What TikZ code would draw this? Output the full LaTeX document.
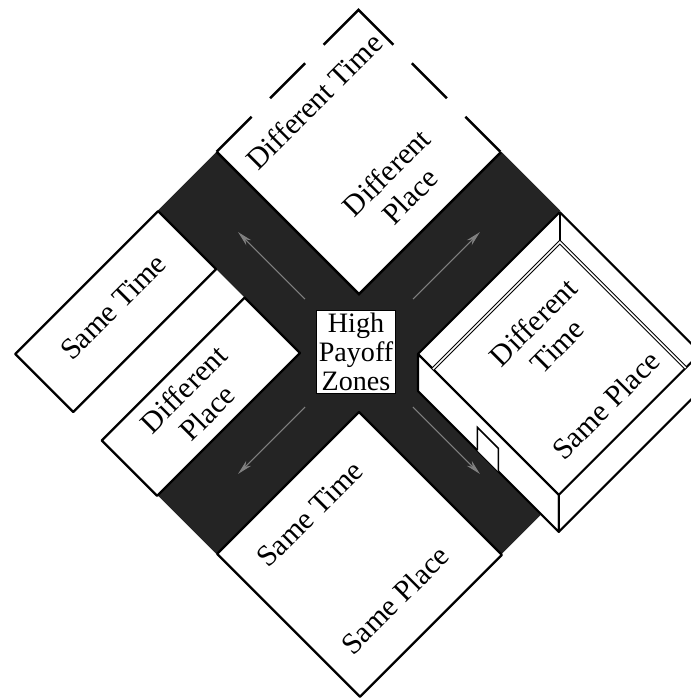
\documentclass[tikz,border=0pt]{standalone}
\usepackage{fontspec}
\setmainfont{Liberation Serif}
\usetikzlibrary{arrows.meta}

\begin{document}
\begin{tikzpicture}[x=0.02cm, y=-0.02cm, >={Stealth[length=3mm, width=1.4mm]},
	every node/.style={font=\fontsize{17}{19}\selectfont, align=center, inner sep=0pt},
	cell/.style={draw, line width=1.3pt, fill=white, line join=round},
	rim/.style={line width=1.4pt, line join=miter},
	wall/.style={draw, line width=1.2pt, fill=white, line join=round},
	band/.style={fill=black!86},
	flow/.style={->, draw=black!50, line width=0.6pt}]
	\useasboundingbox (0,0) rectangle (691,698);
	\clip (0,0) rectangle (691,698);
	\begin{scope}[shift={(359,353)}, x={(0.01cm,0.01cm)}, y={(0.01cm,-0.01cm)}]
		\fill[band] (-59,-344) -- (59,-344) -- (59,344) -- (-59,344) -- cycle;
		\fill[band] (-344,-59) -- (344,-59) -- (344,59) -- (-344,59) -- cycle;
		\foreach \dx/\dy in {0/-1, 1/0, 0/1, -1/0}
			\draw[flow] ({108*\dx},{108*\dy}) -- ({242*\dx},{242*\dy});

		\fill[white] (59,-344) -- (343,-344) -- (343,-59) -- (59,-59) -- cycle;
		\draw[rim] (59,-344) -- (59,-59) -- (343,-59);
		\draw[rim] (273,-344) -- (343,-344) -- (343,-274);
		\foreach \d in {107,214}
			\draw[rim] ({343-\d},-344) -- ({273-\d},-344) (343,{-344+\d}) -- (343,{-274+\d});

		\draw[cell] (-345,-343) -- (-59,-343) -- (-59,-227) -- (-345,-227) -- cycle;
		\draw[cell] (-345,-170) -- (-59,-170) -- (-59,-59) -- (-345,-59) -- cycle;
		\draw[cell] (-343,59) -- (-59,59) -- (-59,345) -- (-343,345) -- cycle;

		\draw[wall] (58,60) -- (342,60) -- (342,342) -- (58,342) -- cycle;
		\draw[wall] (58,60) -- (58,342) -- (21,379) -- (21,97) -- cycle;
		\draw[wall] (58,342) -- (342,342) -- (305,379) -- (21,379) -- cycle;
		\draw[line width=0.9pt] (342,60) -- (312,90);
		\draw[double, double distance=0.9pt, line width=0.6pt] (58,90) -- (312,90) -- (312,342);
		\draw[line width=0.9pt, fill=white] (21,216) -- (44,193) -- (44,235) -- (21,258);

		\node[rotate=45] (dtime1) at (207,-297) {Different Time};
		\node[rotate=45] (dplace1) at (208,-130) {Different\\Place};
		\node[rotate=45] (stime1) at (-200,-292) {Same Time};
		\node[rotate=45] (dplace2) at (-212,-116) {Different\\Place};
		\node[rotate=45] (stime2) at (-210,112) {Same Time};
		\node[rotate=45] (splace1) at (-211,283) {Same Place};
		\node[rotate=45] (dtime2) at (205,167) {Different\\Time};
		\node[rotate=45] (splace2) at (195,299) {Same Place};
		\node[draw, fill=white, line width=0.6pt, inner sep=1.5pt, font=\fontsize{16}{16.5}\selectfont] (payoff) at (-2,-4) {High\\Payoff\\Zones};
	\end{scope}
\end{tikzpicture}
\end{document}
